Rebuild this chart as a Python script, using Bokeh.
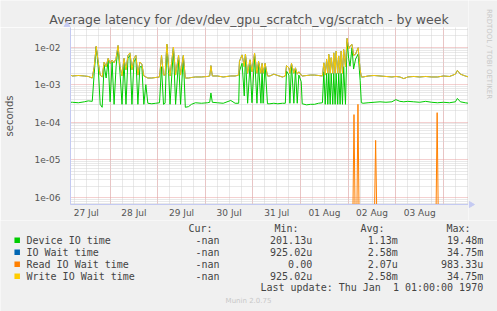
import math
from bokeh.plotting import figure
from bokeh.layouts import column, row
from bokeh.models import Range1d, FixedTicker, CustomJSTickFormatter
from bokeh.core.properties import value
from bokeh.embed import file_html
from bokeh.resources import INLINE

TITLE = "Average latency for /dev/dev_gpu_scratch_vg/scratch - by week"
day_labels = ["27 Jul", "28 Jul", "29 Jul", "30 Jul", "31 Jul", "01 Aug", "02 Aug", "03 Aug"]
y_tick_values = [1e-6, 1e-5, 1e-4, 1e-3, 1e-2]

# hours since 27 Jul 00:00
hours = [
    4.04, 5, 8, 11, 13, 15,
    16, 17, 18, 19, 20, 21, 22, 23, 24, 25, 26, 27, 28, 29, 30, 31, 32, 33, 34, 35, 36, 37, 38, 39, 40, 41, 42,
    43, 45, 47, 48.9,
    49.9, 50.9, 51.7, 52.6, 53.5, 54.2, 55.9, 57.0, 58.5, 59.5, 60.9, 61.9,
    63.5, 65, 67, 70, 73, 74.2, 74.8, 75.5, 78, 81, 84.8, 87, 88.8,
    89.2, 90.5, 91.6, 92.2, 93.3, 94.5, 95.5, 96.8, 98.0, 98.8, 100.0, 100.6, 101.1, 102.1, 103.3,
    104.5, 106.5, 108.5, 110.8, 112.3,
    112.9, 114.1, 114.6, 115.4, 116.6, 117.4, 118.3, 119.1, 120.3, 120.8,
    123, 125, 127, 129, 131,
    131.7, 132.4, 133.1, 133.7, 134.2, 134.9, 135.4, 136.2, 136.7, 137.4, 137.9, 138.7, 139.2, 139.9,
    140.4, 141.1, 141.7, 142.6, 143.4, 144.2, 144.9, 145.9, 146.7, 147.7, 149.0, 150.0, 150.6,
    151.5, 154, 157, 160, 163, 166, 168, 170, 172, 174, 177, 180, 183, 186, 189, 192, 195, 198, 199, 200.5, 203, 204.6,
]

device_io_time = [
    3.4e-4, 3.4e-4, 3.3e-4, 3.5e-4, 3.7e-4, 3.6e-4,
    2e-3, 1e-2, 3e-3, 3e-4, 2.5e-4, 3.3e-3, 1.5e-3, 4.5e-3, 3.5e-4, 4e-3, 3e-4, 3e-3, 1e-2, 2e-3, 3e-4, 4e-3, 3e-4,
    5e-3, 6e-3, 3e-4, 4e-3, 5e-3, 3e-4, 3e-3, 3e-3, 3e-4, 1e-3,
    3.2e-4, 3.1e-4, 3.2e-4, 3.3e-4,
    3e-3, 3e-4, 3.2e-4, 1.1e-2, 2e-3, 3e-4, 9e-3, 3e-4, 4.5e-3, 3e-4, 5.5e-3, 2.5e-4,
    2.6e-4, 3e-4, 3.3e-4, 3.2e-4, 3.3e-4, 3.4e-4, 6e-4, 3.4e-4, 3.3e-4, 3.2e-4, 3.8e-4, 3.2e-4, 3.2e-4,
    2.3e-3, 3.7e-3, 5e-4, 6.2e-3, 3.2e-4, 3.4e-3, 3.3e-4, 5.7e-3, 3.2e-4, 3.7e-3, 3.2e-4, 2.8e-3, 3.2e-4, 3.4e-3, 3.1e-4,
    3.1e-4, 3.2e-4, 3.1e-4, 3.2e-4, 3.2e-4,
    2.3e-3, 1.8e-3, 3.2e-4, 3.4e-3, 3.2e-4, 2.6e-3, 3.2e-4, 1.8e-3, 1.2e-3, 3.1e-4,
    2.9e-4, 3e-4, 3e-4, 3.2e-4, 3.3e-4,
    2.2e-3, 3e-4, 2e-3, 3e-4, 2e-3, 3e-4, 2e-3, 3e-4, 2e-3, 3e-4, 2e-3, 3e-4, 2e-3, 3e-4,
    2e-3, 3e-4, 3e-3, 3e-4, 1.4e-2, 5e-3, 3.1e-3, 9.6e-3, 2.6e-3, 4.8e-3, 6.5e-3, 1.3e-3, 3.3e-4,
    3.2e-4, 3.3e-4, 3.4e-4, 3.5e-4, 3.4e-4, 3.5e-4, 4e-4, 3.6e-4, 3.5e-4, 3.6e-4, 3.5e-4, 3.4e-4, 3.6e-4, 3.4e-4,
    3.3e-4, 3.4e-4, 3.3e-4, 3.5e-4, 4.3e-4, 3.5e-4, 3.3e-4, 3.2e-4,
]

write_io_wait_time = [
    1.8e-3, 1.7e-3, 1.75e-3, 1.7e-3, 1.65e-3, 1.5e-3,
    3e-3, 1.05e-2, 4e-3, 1.8e-3, 1.6e-3, 4e-3, 3e-3, 5e-3, 3.7e-3, 4.5e-3, 3.8e-3, 5e-3, 1.1e-2, 3e-3, 1.7e-3, 5e-3, 2.5e-3,
    6e-3, 7e-3, 2.5e-3, 5e-3, 6e-3, 1.8e-3, 4e-3, 3.5e-3, 1.7e-3, 1.6e-3,
    1.5e-3, 1.5e-3, 1.55e-3, 1.6e-3,
    6e-3, 1.8e-3, 1.8e-3, 1.2e-2, 3e-3, 1.7e-3, 1e-2, 1.8e-3, 6e-3, 1.8e-3, 6e-3, 1.5e-3,
    1.5e-3, 1.55e-3, 1.6e-3, 1.6e-3, 1.65e-3, 1.7e-3, 3.2e-3, 1.7e-3, 1.7e-3, 1.6e-3, 1.7e-3, 1.7e-3, 1.8e-3,
    4.2e-3, 6.2e-3, 3e-3, 6.5e-3, 2e-3, 4.6e-3, 2.2e-3, 6.9e-3, 2e-3, 4.2e-3, 2e-3, 3.7e-3, 2e-3, 3.7e-3, 1.7e-3,
    1.7e-3, 1.9e-3, 1.75e-3, 1.6e-3, 1.7e-3,
    3.2e-3, 2.8e-3, 2e-3, 3.7e-3, 2e-3, 2.8e-3, 1.9e-3, 2.2e-3, 1.8e-3, 1.7e-3,
    1.75e-3, 1.8e-3, 1.8e-3, 1.75e-3, 1.7e-3,
    3.8e-3, 1.8e-3, 4.7e-3, 2e-3, 6.4e-3, 2e-3, 5.2e-3, 2e-3, 7e-3, 2e-3, 7.8e-3, 2e-3, 5.8e-3, 2e-3,
    7.8e-3, 2e-3, 8.6e-3, 3e-3, 1.7e-2, 9e-3, 1.06e-2, 1.18e-2, 6e-3, 6.5e-3, 9.6e-3, 2.5e-3, 1.6e-3,
    1.6e-3, 1.7e-3, 1.75e-3, 1.7e-3, 1.65e-3, 1.6e-3, 1.65e-3, 1.6e-3, 1.45e-3, 1.6e-3, 1.65e-3, 1.6e-3, 1.65e-3, 1.6e-3,
    1.6e-3, 1.7e-3, 1.65e-3, 1.9e-3, 2.4e-3, 1.9e-3, 1.7e-3, 1.6e-3,
]

io_wait_time = list(write_io_wait_time)  # identical statistics in the legend

read_hours = [4.04, 146.4, 146.9, 147.4, 148.4, 148.9, 149.4, 157.3, 157.8, 158.3, 188.3, 188.8, 189.3, 204.6]
read_io_wait_time = [0, 0, 1.6e-4, 0, 0, 3.0e-4, 0, 0, 3.3e-5, 0, 0, 1.8e-4, 0, 0]

legend_names = ["Device IO time", "IO Wait time", "Read IO Wait time", "Write IO Wait time"]
legend_cur = ["-nan", "-nan", "-nan", "-nan"]
legend_min = ["201.13u", "925.02u", "0.00", "925.02u"]
legend_avg = ["1.13m", "2.58m", "2.07u", "2.58m"]
legend_max = ["19.48m", "34.75m", "983.33u", "34.75m"]
legend_headers = ["Cur:", "Min:", "Avg:", "Max:"]
last_update = "Last update: Thu Jan \u00a01 01:00:00 1970"
series_colors = ["#00CC00", "#0066B3", "#FF8000", "#FFCC00"]

BG = "#F0F0F0"
TXT = "#444444"
W, H = 497, 311
FL, FR, FT, FB = 66, 468, 27, 204   # plot frame in page pixels
MAIN_BOTTOM = 220                    # bottom of the main figure row
Y_BOTTOM, Y_TOP = 6.5e-7, 0.0331
X_LEFT, X_RIGHT = 4.04, 204.6


def blank(width, height, x0, x1, y0, y1):
    f = figure(width=width, height=height, output_backend="svg", toolbar_location=None, title=None,
               x_range=Range1d(x0, x1), y_range=Range1d(y1, y0),
               min_border=0, x_axis_location=None, y_axis_location=None)
    f.grid.visible = False
    f.background_fill_color = BG
    f.border_fill_color = BG
    f.outline_line_color = None
    return f


# ---------- main chart ----------
p = figure(width=FR, height=MAIN_BOTTOM - FT, output_backend="svg", toolbar_location=None, title=None,
           x_range=Range1d(X_LEFT, X_RIGHT), y_range=Range1d(Y_BOTTOM, Y_TOP), y_axis_type="log",
           min_border_left=FL, min_border_right=0, min_border_top=0, min_border_bottom=MAIN_BOTTOM - FB)
p.background_fill_color = "#FFFFFF"
p.border_fill_color = BG
p.outline_line_color = None

p.yaxis.ticker = FixedTicker(ticks=y_tick_values,
                             minor_ticks=[m * 10.0 ** e for e in range(-7, -1) for m in range(2, 10)])
p.yaxis.formatter = CustomJSTickFormatter(code='return tick.toExponential(0).replace("e-", "e-0");')
p.yaxis.major_tick_out = 0
p.yaxis.major_tick_in = 0
p.yaxis.minor_tick_line_color = None
p.yaxis.major_label_standoff = 6
p.yaxis.major_label_text_font = "DejaVu Sans"
p.yaxis.major_label_text_font_size = "9px"
p.yaxis.major_label_text_color = "#555555"
p.yaxis.axis_line_color = "#C4CAF2"
p.yaxis.axis_label = "seconds"
p.yaxis.axis_label_text_font = "DejaVu Sans"
p.yaxis.axis_label_text_font_size = "10px"
p.yaxis.axis_label_text_font_style = "normal"
p.yaxis.axis_label_text_color = "#555555"
p.yaxis.axis_label_standoff = 17

p.ygrid.ticker = p.yaxis.ticker
p.ygrid.grid_line_color = "#E8A0A0"
p.ygrid.grid_line_dash = "1 1"
p.ygrid.minor_grid_line_color = "#D2D2D2"
p.ygrid.minor_grid_line_dash = "1 1"

label_ticks = [12 + 24 * i for i in range(len(day_labels))]
p.xaxis.ticker = FixedTicker(ticks=label_ticks)
p.xaxis.major_label_overrides = {t: lab for t, lab in zip(label_ticks, day_labels)}
p.xaxis.major_tick_out = 0
p.xaxis.major_tick_in = 0
p.xaxis.minor_tick_line_color = None
p.xaxis.major_label_standoff = 3
p.xaxis.major_label_text_font = "DejaVu Sans"
p.xaxis.major_label_text_font_size = "9px"
p.xaxis.major_label_text_color = "#555555"
p.xaxis.axis_line_color = "#C4CAF2"

p.xgrid.ticker = FixedTicker(ticks=[24 * i for i in range(0, 9)],
                             minor_ticks=[6 * i for i in range(0, 35)])
p.xgrid.grid_line_color = "#E8A0A0"
p.xgrid.grid_line_dash = "1 1"
p.xgrid.minor_grid_line_color = "#D2D2D2"
p.xgrid.minor_grid_line_dash = "1 1"

p.line(hours, device_io_time, line_color=series_colors[0], line_width=1)
p.line(hours, io_wait_time, line_color=series_colors[1], line_width=1)
read_plot = [v if v > 0 else Y_BOTTOM for v in read_io_wait_time]
p.line(read_hours, read_plot, line_color=series_colors[2], line_width=1)
p.line(hours, write_io_wait_time, line_color=series_colors[3], line_width=1)

# ---------- title strip (page y 0..27, x 0..468) ----------
top = blank(FR, FT, 0, FR, 0, FT)
top.text(x=[248.5], y=[18.5], text=[TITLE], text_font=value("DejaVu Sans"), text_font_size="12.5px",
         text_color="#555555", text_align="center", text_baseline="middle")
top.scatter(x=[FL + 0.5], y=[24.5], marker="triangle", size=6, color="#C4CAF2")

# ---------- right strip (page x 468..497, y 0..220) ----------
side = blank(W - FR, MAIN_BOTTOM, FR, W, 0, MAIN_BOTTOM)
side.text(x=[488.5], y=[53.5], text=["RRDTOOL / TOBI OETIKER"], text_font=value("DejaVu Sans"),
          text_font_size="7px", text_color="#C8C8C8", text_align="center", text_baseline="middle",
          angle=-math.pi / 2)
side.scatter(x=[470.5], y=[FB], marker="triangle", angle=-math.pi / 2, size=6, color="#C4CAF2")

# ---------- legend strip (page y 220..311) ----------
bot = blank(W, H - MAIN_BOTTOM, 0, W, MAIN_BOTTOM, H)
mono = value("DejaVu Sans Mono")
col_right = [219, 311.7, 397.3, 482.7]
head_right = [212, 298, 384, 470]
bot.text(x=head_right, y=[228.3] * 4, text=legend_headers, text_font=mono, text_font_size="10px",
         text_color=TXT, text_align="right", text_baseline="middle")
row_y = [239.7 + 12 * i for i in range(len(legend_names))]
bot.rect(x=[16.7] * 4, y=row_y, width=5.5, height=5.5, fill_color=series_colors, line_color=None)
bot.text(x=[26] * 4, y=row_y, text=legend_names, text_font=mono, text_font_size="10px",
         text_color=TXT, text_align="left", text_baseline="middle")
for xr, vals in zip(col_right, [legend_cur, legend_min, legend_avg, legend_max]):
    bot.text(x=[xr] * 4, y=row_y, text=vals, text_font=mono, text_font_size="10px",
             text_color=TXT, text_align="right", text_baseline="middle")
bot.text(x=[482.7], y=[287.3], text=[last_update], text_font=mono,
         text_font_size="10px", text_color=TXT, text_align="right", text_baseline="middle")
bot.text(x=[248], y=[300.3], text=["Munin 2.0.75"], text_font=value("DejaVu Sans"), text_font_size="7px",
         text_color="#C8C8C8", text_align="center", text_baseline="middle")

# nesting p in its own row keeps the layout from aligning the title strip's frame with p's frame
left = column(top, row(p, spacing=0), spacing=0)
layout = column(row(left, side, spacing=0), bot, spacing=0)
open("out.html", "w").write(file_html(layout, INLINE))
